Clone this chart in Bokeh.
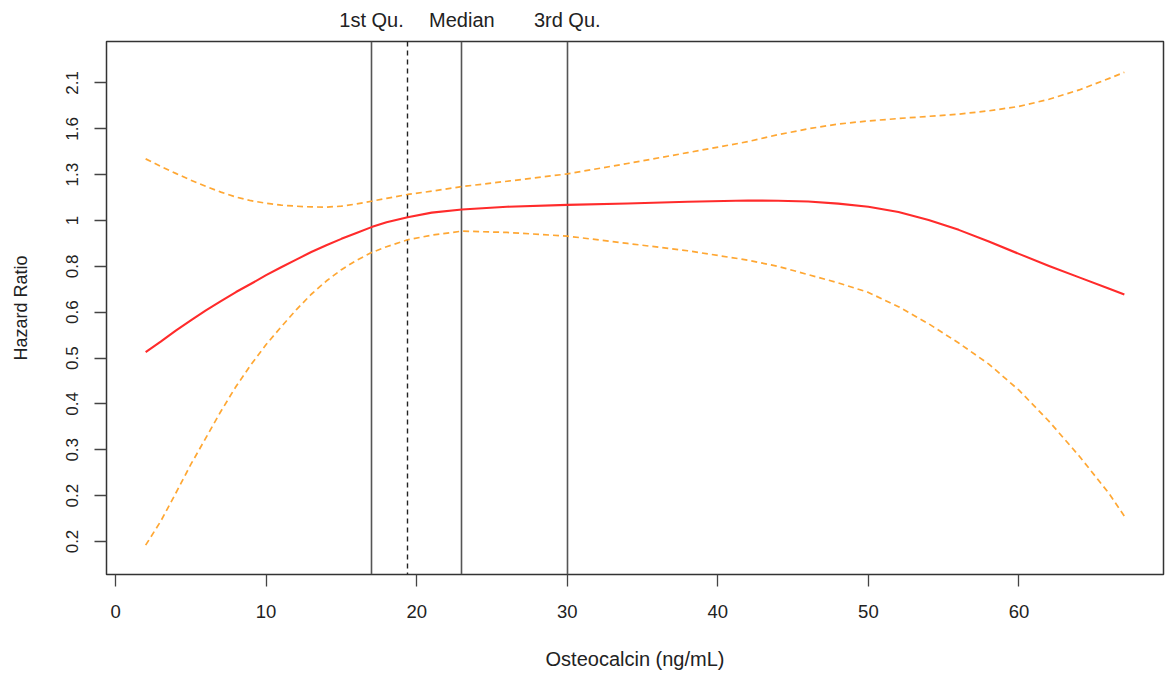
from bokeh.plotting import figure
from bokeh.models import Range1d, FixedTicker, LinearAxis
from bokeh.embed import file_html
from bokeh.resources import INLINE

# Osteocalcin (ng/mL) grid
osteocalcin = [2, 3, 4, 5, 6, 7, 8, 9, 10, 11, 12, 13, 14, 15, 16, 17, 18, 19.4,
               21, 23, 26, 30, 34, 38, 42, 44, 46, 48, 50, 52, 54, 56, 58, 60,
               62, 64, 66, 67]
# log hazard ratio (estimate)
log_hr = [-0.717, -0.66, -0.60, -0.545, -0.49, -0.44, -0.39, -0.345, -0.298,
          -0.255, -0.213, -0.172, -0.135, -0.10, -0.068, -0.036, -0.010, 0.018,
          0.043, 0.060, 0.075, 0.085, 0.093, 0.102, 0.109, 0.108, 0.104, 0.092,
          0.075, 0.046, 0.003, -0.051, -0.114, -0.182, -0.248, -0.31, -0.372,
          -0.403]
# upper 95% CI (log)
log_hr_upper = [0.336, 0.295, 0.257, 0.22, 0.186, 0.155, 0.128, 0.108, 0.094,
                0.084, 0.078, 0.074, 0.073, 0.078, 0.090, 0.105, 0.121, 0.142,
                0.160, 0.185, 0.214, 0.254, 0.311, 0.370, 0.430, 0.468, 0.500,
                0.526, 0.543, 0.556, 0.568, 0.580, 0.598, 0.622, 0.661, 0.712,
                0.775, 0.808]
# lower 95% CI (log)
log_hr_lower = [-1.770, -1.640, -1.487, -1.33, -1.185, -1.04, -0.905, -0.785,
                -0.676, -0.580, -0.487, -0.402, -0.330, -0.268, -0.217, -0.175,
                -0.143, -0.105, -0.080, -0.058, -0.065, -0.085, -0.125, -0.165,
                -0.216, -0.250, -0.295, -0.340, -0.392, -0.470, -0.563, -0.668,
                -0.783, -0.925, -1.095, -1.284, -1.49, -1.612]

y_tick_positions = [-1.75, -1.5, -1.25, -1.0, -0.75, -0.5, -0.25, 0.0, 0.25, 0.5, 0.75]
y_tick_labels = ["0.2", "0.2", "0.3", "0.4", "0.5", "0.6", "0.8", "1", "1.3", "1.6", "2.1"]
x_ticks = [0, 10, 20, 30, 40, 50, 60]
quartile_x = [17, 23, 30]
quartile_labels = ["1st Qu.", "Median", "3rd Qu."]
mean_x = [19.4]

FONT = "Liberation Sans"
TXT = "#222222"

p = figure(width=1165, height=679, output_backend="svg", toolbar_location=None,
           x_range=Range1d(-0.6, 69.6), y_range=Range1d(-1.930, 0.976),
           min_border_left=106, min_border_right=2, min_border_top=41,
           min_border_bottom=105)
p.grid.visible = False
p.background_fill_color = "white"
p.border_fill_color = "white"
p.outline_line_color = "#333333"
p.outline_line_width = 1.5

# quartile and mean lines
p.vspan(x=quartile_x, line_color="#555555", line_width=1.6)
p.vspan(x=mean_x, line_color="#222222", line_width=1.4, line_dash="5 4")

# curves
p.line(osteocalcin, log_hr_upper, line_color="#FFA733", line_width=1.7,
       line_dash="6 4", line_join="round")
p.line(osteocalcin, log_hr_lower, line_color="#FFA733", line_width=1.7,
       line_dash="6 4", line_join="round")
p.line(osteocalcin, log_hr, line_color="#FF2B2B", line_width=2.1, line_join="round")

# axes
xa = p.xaxis[0]
xa.ticker = FixedTicker(ticks=x_ticks)
xa.axis_label = "Osteocalcin (ng/mL)"
ya = p.yaxis[0]
ya.ticker = FixedTicker(ticks=y_tick_positions)
ya.major_label_overrides = {t: l for t, l in zip(y_tick_positions, y_tick_labels)}
ya.major_label_orientation = "vertical"
ya.axis_label = "Hazard Ratio"

for ax in (xa, ya):
    ax.axis_line_color = None
    ax.major_tick_out = 12
    ax.major_tick_in = 0
    ax.major_tick_line_color = "#444444"
    ax.major_tick_line_width = 1.3
    ax.minor_tick_line_color = None
    ax.major_label_text_font = FONT
    ax.major_label_text_color = TXT
    ax.axis_label_text_font = FONT
    ax.axis_label_text_font_style = "normal"
    ax.axis_label_text_color = TXT
xa.major_label_text_font_size = "18.5px"
xa.axis_label_text_font_size = "20px"
ya.major_label_text_font_size = "17px"
ya.axis_label_text_font_size = "18px"
xa.major_label_standoff = 18
xa.axis_label_standoff = 27
ya.major_label_standoff = 16
ya.axis_label_standoff = 33

top = LinearAxis(ticker=FixedTicker(ticks=quartile_x),
                 major_label_overrides={q: l for q, l in zip(quartile_x, quartile_labels)})
top.axis_line_color = None
top.major_tick_line_color = None
top.minor_tick_line_color = None
top.major_tick_out = 0
top.major_tick_in = 0
top.major_label_standoff = 11
top.major_label_text_font = FONT
top.major_label_text_font_size = "20px"
top.major_label_text_color = TXT
p.add_layout(top, "above")

open("out.html", "w").write(file_html(p, INLINE))
